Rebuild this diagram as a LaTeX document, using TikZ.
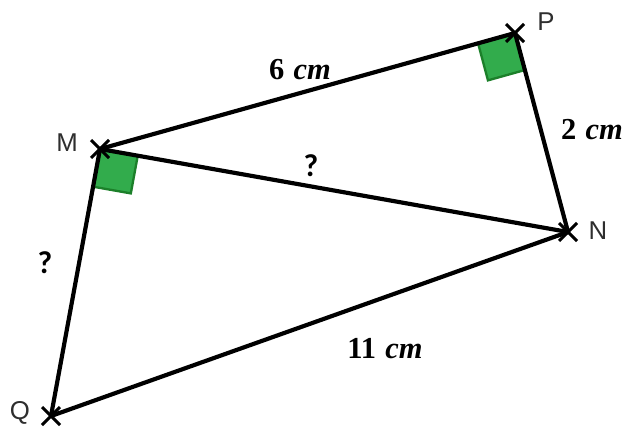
\documentclass[tikz,border=0pt]{standalone}
\usepackage{fontspec}
\setmainfont{Liberation Serif}
\newfontfamily\lsans{Liberation Sans}
\newfontfamily\carl{Carlito}
\usetikzlibrary{calc}
\definecolor{sqfill}{RGB}{50,172,76}
\definecolor{sqedge}{RGB}{28,128,42}
\begin{document}
\begin{tikzpicture}[x=0.03cm,y=-0.03cm,
  edge/.style={line width=0.125cm,line cap=round},
  crossmark/.style={line width=0.09cm},
  vlab/.style={font=\lsans\fontsize{22}{22}\selectfont, text=black!82},
  mlab/.style={font=\bfseries\fontsize{26}{26}\selectfont},
  qlab/.style={font=\carl\bfseries\fontsize{27}{27}\selectfont},
  rsq/.style={fill=sqfill,draw=sqedge,line width=0.07cm,line join=miter}]
\useasboundingbox (0,0) rectangle (629,428);
\coordinate (P) at (515,33);
\coordinate (M) at (100,149);
\coordinate (N) at (568,232);
\coordinate (Q) at (51,416);
% right-angle squares
\coordinate (pa) at ($(P)!1.15cm!(M)$);
\coordinate (pb) at ($(P)!1.15cm!(N)$);
\draw[rsq] (P) -- (pa) -- ($(pa)+(pb)-(P)$) -- (pb) -- cycle;
\coordinate (ma) at ($(M)!1.15cm!(N)$);
\coordinate (mb) at ($(M)!1.15cm!(Q)$);
\draw[rsq] (M) -- (ma) -- ($(ma)+(mb)-(M)$) -- (mb) -- cycle;
% edges
\draw[edge] (M) -- (P);
\draw[edge] (P) -- (N);
\draw[edge] (M) -- (N);
\draw[edge] (M) -- (Q);
\draw[edge] (Q) -- (N);
% crosses
\foreach \v in {P,M,N,Q}
  \draw[crossmark] ($(\v)+(-9,-9)$) -- ($(\v)+(9,9)$) ($(\v)+(-9,9)$) -- ($(\v)+(9,-9)$);
% vertex labels
\node[vlab] (lP) at (546,22) {P};
\node[vlab] (lM) at (67,143) {M};
\node[vlab] (lN) at (598,231) {N};
\node[vlab] (lQ) at (20,413) {Q};
% measure labels
\node[mlab] (l6) at (300,70) {6\hspace{0.3em}\textit{cm}};
\node[mlab] (l2) at (592,130) {2\hspace{0.3em}\textit{cm}};
\node[mlab] (l11) at (385,349) {11\hspace{0.3em}\textit{cm}};
\node[qlab] (q1) at (311,166) {?};
\node[qlab] (q2) at (45,263) {?};
\end{tikzpicture}
\end{document}
